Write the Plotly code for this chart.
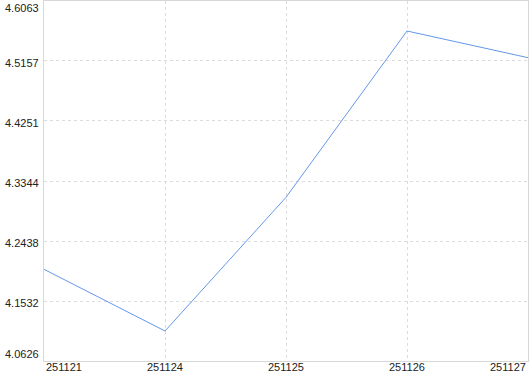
import plotly.graph_objects as go

categories = ["251121", "251124", "251125", "251126", "251127"]
values = [4.2011, 4.1079, 4.3098, 4.5610, 4.5207]
y_ticks = [4.0626, 4.1532, 4.2438, 4.3344, 4.4251, 4.5157, 4.6063]
y_tick_labels = ["4.0626", "4.1532", "4.2438", "4.3344", "4.4251", "4.5157", "4.6063"]

fig = go.Figure()
fig.add_trace(go.Scatter(
    x=categories, y=values, mode="lines",
    line=dict(color="#6398EA", width=1),
    hoverinfo="x+y",
))

font = dict(family="Liberation Sans, Arial, sans-serif", size=11, color="#222222")

annotations = []
n = len(categories)
for i, c in enumerate(categories):
    anchor = "left" if i == 0 else ("right" if i == n - 1 else "center")
    annotations.append(dict(
        x=i, y=0, xref="x", yref="paper", text=c, showarrow=False,
        xanchor=anchor, yanchor="top", yshift=2, font=font,
    ))
m = len(y_ticks)
for i, (v, t) in enumerate(zip(y_ticks, y_tick_labels)):
    if i == 0:
        ya, ys = "bottom", -1
    elif i == m - 1:
        ya, ys = "top", 1
    else:
        ya, ys = "middle", -2
    annotations.append(dict(
        x=0, y=v, xref="paper", yref="y", text=t, showarrow=False,
        xanchor="right", yanchor=ya, xshift=-3, yshift=ys, font=font,
    ))

fig.update_layout(
    width=530, height=374,
    margin=dict(l=44, r=2, t=1, b=13),
    paper_bgcolor="white", plot_bgcolor="white",
    showlegend=False,
    annotations=annotations,
    xaxis=dict(
        type="category", range=[0, n - 1],
        showgrid=True, gridcolor="#DCDCDC", griddash="3px,3px", gridwidth=1,
        showline=True, linecolor="#D8D8D8", linewidth=1, mirror=True,
        showticklabels=False, ticks="", zeroline=False,
    ),
    yaxis=dict(
        range=[y_ticks[0], y_ticks[-1]],
        tickmode="array", tickvals=y_ticks, ticktext=y_tick_labels,
        showgrid=True, gridcolor="#DCDCDC", griddash="3px,3px", gridwidth=1,
        showline=True, linecolor="#D8D8D8", linewidth=1, mirror=True,
        showticklabels=False, ticks="", zeroline=False,
    ),
)

fig.write_html("out.html")
